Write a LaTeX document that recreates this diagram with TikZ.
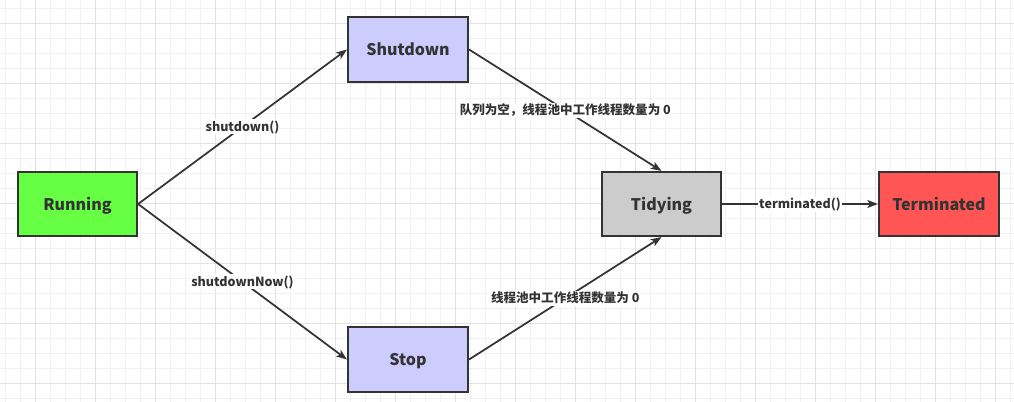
\documentclass[tikz,border=0pt]{standalone}
\usepackage{fontspec}
\setmainfont{Noto Sans CJK SC}
\usetikzlibrary{arrows.meta}
\definecolor{txt}{HTML}{333333}
\definecolor{gminor}{HTML}{F1F1F1}
\definecolor{gmajor}{HTML}{E2E2E2}
\definecolor{cgreen}{HTML}{66FF44}
\definecolor{cblue}{HTML}{CCCCFF}
\definecolor{cgray}{HTML}{CCCCCC}
\definecolor{cred}{HTML}{FF5555}
\newlength{\pxu}
\setlength{\pxu}{0.75pt}
\tikzset{
  statebox/.style={draw=txt, line width=1.6pt, minimum width=119\pxu, minimum height=64\pxu, inner sep=0pt, text=txt, font=\fontsize{12}{14}\selectfont\bfseries, text height=11.5pt, text depth=2pt},
  conn/.style={draw=txt, line width=1.3pt, -{Stealth[length=8pt,width=6pt,inset=2pt]}},
  lbl/.style={fill=white, inner sep=1pt, text=txt, font=\fontsize{9.4}{11}\selectfont\bfseries, text height=8pt, text depth=1.5pt, midway}
}
\begin{document}
\begin{tikzpicture}[x=0.75pt,y=-0.75pt]
\useasboundingbox (0,0) rectangle (1014,402);
\fill[white] (0,0) rectangle (1014,402);
% grid
\foreach \i in {0,...,67} {\draw[gminor, line width=0.75pt] ({5+15*\i},0) -- ({5+15*\i},402);}
\foreach \j in {0,...,26} {\draw[gminor, line width=0.75pt] (0,{9+15*\j}) -- (1014,{9+15*\j});}
\foreach \i in {0,...,16} {\draw[gmajor, line width=0.75pt] ({35+60*\i},0) -- ({35+60*\i},402);}
\foreach \j in {0,...,6} {\draw[gmajor, line width=0.75pt] (0,{24+60*\j}) -- (1014,{24+60*\j});}
% nodes
\node[statebox, fill=cgreen] (run) at (77.5,204) {Running};
\node[statebox, fill=cblue, minimum width=120\pxu, minimum height=65\pxu] (shut) at (408,49.5) {Shutdown};
\node[statebox, fill=cblue, minimum width=120\pxu, minimum height=65\pxu] (stop) at (408,359.5) {Stop};
\node[statebox, fill=cgray] (tidy) at (661.5,204) {Tidying};
\node[statebox, fill=cred, minimum width=120\pxu] (term) at (939,204) {Terminated};
% connectors
\draw[conn] (run.east) -- node[lbl] {shutdown()} (shut.west);
\draw[conn] (run.east) -- node[lbl] {shutdownNow()} (stop.west);
\draw[conn] (shut.east) -- node[lbl] {队列为空，线程池中工作线程数量为 0} (tidy.north);
\draw[conn] (stop.east) -- node[lbl] {线程池中工作线程数量为 0} (tidy.south);
\draw[conn] (tidy.east) -- node[lbl] {terminated()} (term.west);
\end{tikzpicture}
\end{document}
